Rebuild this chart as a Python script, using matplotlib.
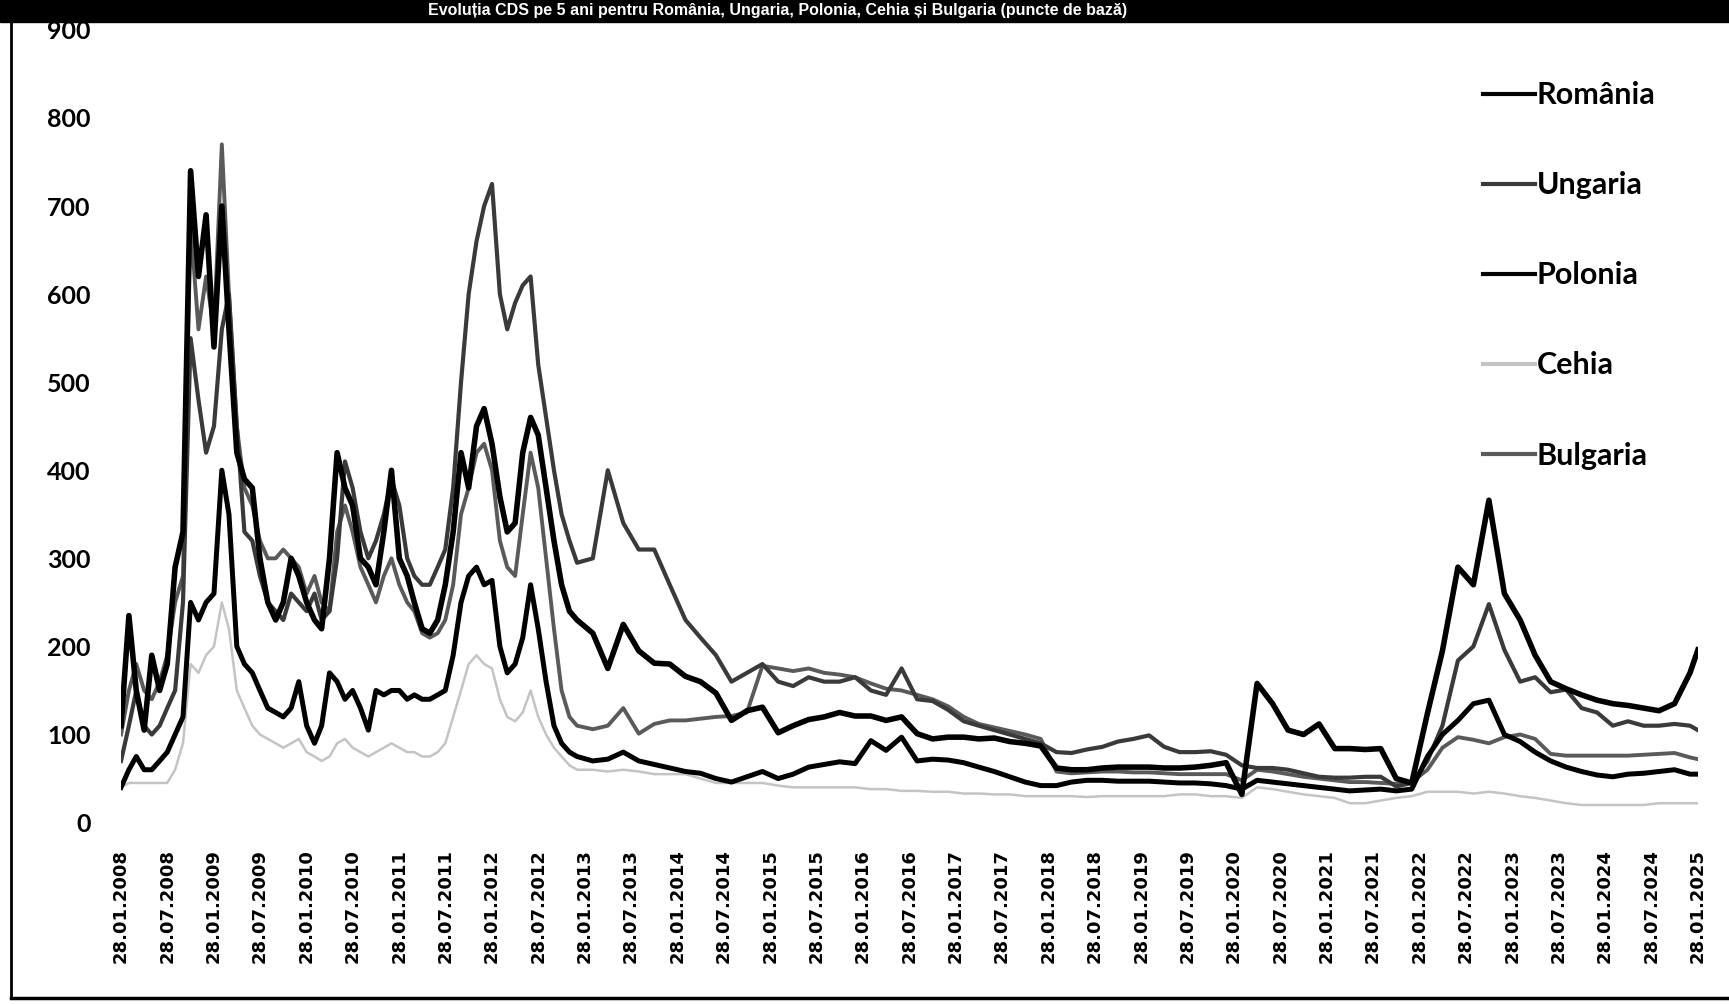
import matplotlib.pyplot as plt
import matplotlib.dates as mdates
import pandas as pd

# dates: monthly 2008-2012, every two months from 2013, last point Jan 2025
monthly = [pd.Timestamp(y, m, 28) for y in range(2008, 2013) for m in range(1, 13)]
bimonthly = [pd.Timestamp(y, m, 28) for y in range(2013, 2025) for m in range(2, 13, 2)]
dates = monthly + bimonthly + [pd.Timestamp(2025, 1, 28)]

# CDS values (puncte de baza), 2008-2012 monthly
romania_08_12 = [110, 235, 150, 105, 190, 150, 180, 290, 330, 740, 620, 690,
                 540, 700, 560, 420, 390, 380, 300, 250, 230, 250, 300, 280,
                 250, 230, 220, 300, 420, 380, 360, 300, 290, 270, 330, 400,
                 300, 280, 250, 220, 215, 230, 270, 330, 420, 380, 450, 470,
                 430, 370, 330, 340, 420, 460, 440, 380, 320, 270, 240, 230]
ungaria_08_12 = [70, 110, 150, 110, 100, 110, 130, 150, 250, 550, 480, 420,
                 450, 560, 600, 450, 330, 320, 280, 250, 240, 230, 260, 250,
                 240, 260, 230, 240, 300, 410, 380, 330, 300, 320, 350, 390,
                 360, 300, 280, 270, 270, 290, 310, 380, 500, 600, 660, 700,
                 725, 600, 560, 590, 610, 620, 520, 460, 400, 350, 320, 295]
polonia_08_12 = [40, 60, 75, 60, 60, 70, 80, 100, 120, 250, 230, 250,
                 260, 400, 350, 200, 180, 170, 150, 130, 125, 120, 130, 160,
                 110, 90, 110, 170, 160, 140, 150, 130, 105, 150, 145, 150,
                 150, 140, 145, 140, 140, 145, 150, 190, 250, 280, 290, 270,
                 275, 200, 170, 180, 210, 270, 220, 160, 110, 90, 80, 75]
cehia_08_12 = [40, 45, 45, 45, 45, 45, 45, 60, 90, 180, 170, 190,
               200, 250, 220, 150, 130, 110, 100, 95, 90, 85, 90, 95,
               80, 75, 70, 75, 90, 95, 85, 80, 75, 80, 85, 90,
               85, 80, 80, 75, 75, 80, 90, 120, 150, 180, 190, 180,
               175, 140, 120, 115, 125, 150, 120, 100, 85, 75, 65, 60]
bulgaria_08_12 = [100, 150, 180, 150, 140, 160, 190, 250, 280, 680, 560, 620,
                  560, 770, 600, 450, 380, 360, 320, 300, 300, 310, 300, 290,
                  260, 280, 250, 240, 330, 360, 330, 290, 270, 250, 280, 300,
                  270, 250, 240, 215, 210, 215, 230, 270, 350, 380, 420, 430,
                  400, 320, 290, 280, 350, 420, 380, 300, 220, 150, 120, 110]

# 2013-2024 every two months (Feb..Dec), then Jan 2025
romania_13_25 = [215, 175, 225, 195, 181, 180,
                 166, 160, 147, 116, 127, 131,
                 102, 110, 117, 120, 125, 121,
                 121, 116, 120, 101, 95, 97,
                 97, 95, 96, 92, 90, 87,
                 62, 60, 60, 62, 63, 63,
                 63, 62, 62, 63, 65, 68,
                 32, 158, 135, 105, 100, 112,
                 84, 84, 83, 84, 50, 45,
                 124, 195, 290, 270, 366, 260,
                 230, 190, 160, 152, 145, 139,
                 135, 133, 130, 127, 135, 170,
                 196]
ungaria_13_25 = [300, 400, 340, 310, 310, 270,
                 230, 210, 190, 160, 170, 180,
                 160, 155, 165, 160, 160, 165,
                 150, 145, 175, 140, 138, 128,
                 115, 110, 105, 100, 95, 90,
                 80, 79, 83, 86, 92, 95,
                 99, 86, 80, 80, 81, 77,
                 65, 62, 62, 60, 56, 52,
                 51, 51, 52, 52, 41, 45,
                 70, 110, 184, 200, 248, 196,
                 160, 165, 148, 151, 130, 125,
                 110, 115, 110, 110, 112, 110,
                 105]
polonia_13_25 = [70, 72, 80, 70, 66, 62,
                 58, 56, 50, 46, 52, 58,
                 50, 55, 63, 66, 69, 67,
                 93, 82, 97, 70, 72, 71,
                 68, 63, 58, 52, 46, 42,
                 42, 46, 48, 48, 47, 47,
                 47, 46, 45, 45, 44, 42,
                 38, 48, 46, 44, 42, 40,
                 38, 36, 37, 38, 36, 38,
                 75, 100, 116, 135, 139, 100,
                 92, 80, 70, 63, 58, 54,
                 52, 55, 56, 58, 60, 55,
                 55]
cehia_13_25 = [60, 58, 60, 58, 55, 55,
               55, 50, 45, 45, 45, 45,
               42, 40, 40, 40, 40, 40,
               38, 38, 36, 36, 35, 35,
               33, 33, 32, 32, 30, 30,
               30, 30, 29, 30, 30, 30,
               30, 30, 32, 32, 30, 30,
               28, 40, 38, 35, 32, 30,
               28, 22, 22, 25, 28, 30,
               35, 35, 35, 33, 35, 33,
               30, 28, 25, 22, 20, 20,
               20, 20, 20, 22, 22, 22,
               22]
bulgaria_13_25 = [106, 110, 130, 101, 112, 116,
                  116, 118, 120, 121, 125, 178,
                  175, 172, 175, 170, 168, 165,
                  158, 152, 150, 145, 140, 132,
                  120, 112, 108, 104, 100, 95,
                  58, 56, 57, 58, 58, 57,
                  57, 56, 55, 55, 55, 55,
                  48, 60, 58, 55, 52, 50,
                  48, 46, 46, 45, 44, 46,
                  60, 85, 97, 94, 90, 97,
                  100, 95, 78, 76, 76, 76,
                  76, 76, 77, 78, 79, 74,
                  72]

names = ["România", "Ungaria", "Polonia", "Cehia", "Bulgaria"]
values = [romania_08_12 + romania_13_25,
          ungaria_08_12 + ungaria_13_25,
          polonia_08_12 + polonia_13_25,
          cehia_08_12 + cehia_13_25,
          bulgaria_08_12 + bulgaria_13_25]
colors = ["black", "#3a3a3a", "black", "#c4c4c4", "#5a5a5a"]
widths = [4.0, 3.0, 3.6, 1.8, 2.8]
zorders = [5, 3, 4, 1, 2]

tick_dates = [pd.Timestamp(y, m, 28) for y in range(2008, 2025) for m in (1, 7)]
tick_dates.append(pd.Timestamp(2025, 1, 28))

fig = plt.figure(figsize=(17.29, 10.05), dpi=100)
ax = fig.add_axes([0.070, 0.1815, 0.912, 0.7888])

for name, vals, c, lw, z in zip(names, values, colors, widths, zorders):
    ax.plot(dates, vals, color=c, lw=lw, label=name, zorder=z)

ax.set_ylim(0, 900)
ax.set_yticks(range(0, 901, 100))
ax.set_xlim(pd.Timestamp(2008, 1, 28), pd.Timestamp(2025, 1, 28))
ax.set_xticks(tick_dates)
ax.xaxis.set_major_formatter(mdates.DateFormatter("%d.%m.%Y"))
for lab in ax.get_xticklabels():
    lab.set_rotation(90)
    lab.set_fontfamily("DejaVu Sans")
    lab.set_fontweight("bold")
    lab.set_fontsize(13)
for lab in ax.get_yticklabels():
    lab.set_fontfamily("Lato")
    lab.set_fontweight("bold")
    lab.set_fontsize(18)
ax.tick_params(axis="x", length=0, pad=19)
ax.tick_params(axis="y", length=0, pad=22)
for s in ax.spines.values():
    s.set_visible(False)

leg = ax.legend(loc="upper left", bbox_to_anchor=(0.858, 0.919),
                bbox_transform=fig.transFigure, frameon=False,
                handlelength=1.7, handletextpad=0.05, labelspacing=2.03,
                borderpad=0, borderaxespad=0,
                prop={"family": "Lato", "weight": "bold", "size": 22})
for h in leg.get_lines():
    h.set_linewidth(3)

# black header band with the title, and the outer frame
fig.patches.append(plt.Rectangle((0, 1 - 22 / 1005), 1, 22 / 1005, transform=fig.transFigure,
                                 color="black", zorder=0))
fig.text(0.45, 1 - 11 / 1005, "Evoluția CDS pe 5 ani pentru România, Ungaria, Polonia, Cehia și Bulgaria (puncte de bază)",
         color="white", fontsize=11.5, fontweight="bold", ha="center", va="center",
         family="Liberation Sans")
fig.add_artist(plt.Line2D([11 / 1729, 11 / 1729], [1 - 998 / 1005, 1 - 20 / 1005],
                          transform=fig.transFigure, color="black", lw=2))
fig.add_artist(plt.Line2D([11 / 1729, 1], [1 - 998 / 1005, 1 - 998 / 1005],
                          transform=fig.transFigure, color="black", lw=2.5))

fig.savefig("out.png", dpi=100)
